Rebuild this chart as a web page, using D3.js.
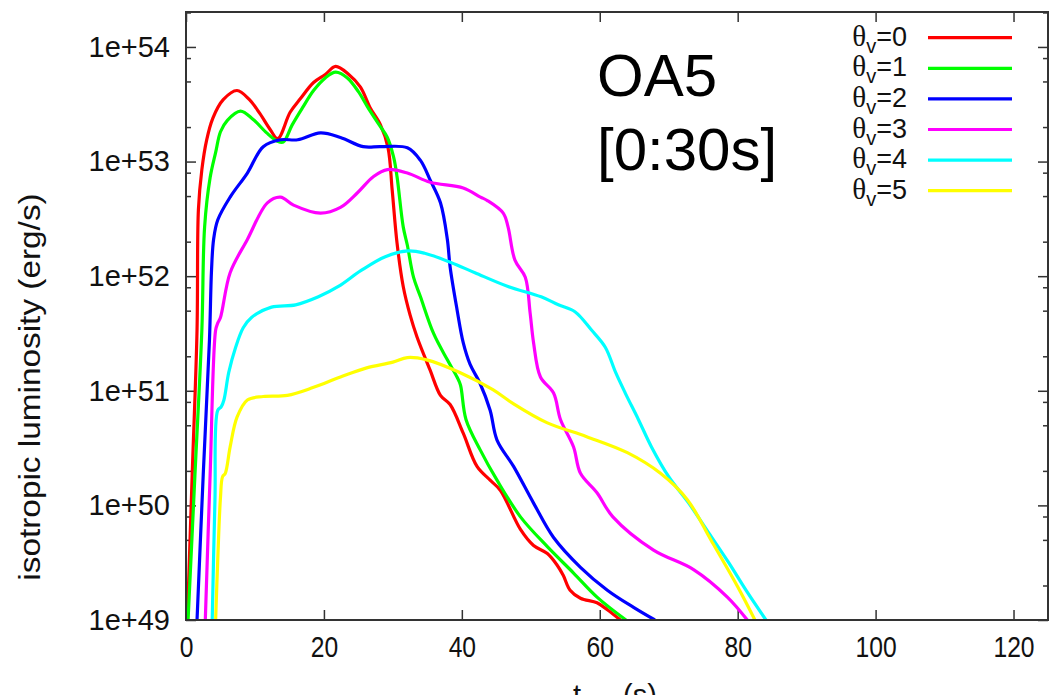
<!DOCTYPE html>
<html>
<head>
<meta charset="utf-8">
<script src="https://cdn.jsdelivr.net/npm/d3@7"></script>
<style>
  body { margin: 0; background: #fff; }
  svg { display: block; font-family: "Liberation Sans", Arial, sans-serif; }
</style>
</head>
<body>
<svg id="chart" width="1053" height="695"></svg>
<script>
// [t_obs (s), log10 of isotropic luminosity (erg/s)]
const theta0 = [[0.2,49.0],[0.9,50.27],[1.6,51.53],[1.8,52.58],[2.3,52.93],[3.0,53.19],[3.9,53.38],[5.4,53.54],[7.4,53.62],[9.2,53.54],[10.7,53.42],[12.2,53.28],[13.3,53.20],[15.1,53.43],[16.6,53.55],[18.5,53.69],[20.2,53.76],[21.7,53.83],[23.6,53.76],[25.3,53.65],[26.7,53.47],[28.2,53.32],[29.3,53.12],[29.9,52.75],[30.6,52.29],[31.5,51.91],[32.5,51.66],[33.5,51.47],[35.4,51.18],[36.9,50.96],[38.3,50.88],[40.2,50.63],[42.2,50.34],[44.1,50.22],[45.6,50.13],[48.5,49.79],[50.4,49.65],[52.4,49.58],[53.8,49.48],[54.7,49.39],[55.7,49.26],[57.2,49.19],[59.6,49.15],[61.1,49.09],[63.0,49.0]];
const theta1 = [[0.3,49.0],[1.3,50.27],[2.3,51.53],[2.7,52.43],[3.5,52.86],[4.3,53.08],[5.0,53.26],[6.0,53.36],[7.9,53.44],[9.7,53.37],[11.7,53.25],[13.2,53.18],[14.1,53.17],[15.4,53.32],[16.9,53.47],[18.5,53.62],[20.2,53.73],[21.7,53.78],[23.4,53.73],[25.0,53.61],[26.3,53.48],[27.9,53.33],[29.2,53.21],[30.1,53.04],[30.6,52.87],[31.5,52.43],[32.1,52.27],[33.0,51.99],[34.0,51.82],[35.9,51.50],[37.9,51.27],[39.3,51.12],[39.8,51.05],[40.6,50.75],[42.7,50.48],[45.1,50.22],[48.5,49.90],[52.4,49.64],[56.2,49.41],[59.6,49.20],[63.8,49.0]];
const theta2 = [[1.6,49.0],[2.5,50.27],[3.4,51.44],[3.7,52.05],[4.0,52.32],[4.6,52.49],[6.4,52.69],[8.9,52.90],[11.2,53.13],[13.7,53.19],[16.2,53.19],[19.5,53.25],[22.4,53.21],[25.7,53.13],[28.2,53.13],[32.1,53.12],[34.0,53.01],[35.4,52.84],[36.9,52.64],[37.9,52.32],[38.3,52.08],[39.3,51.71],[40.2,51.42],[41.2,51.23],[42.6,51.07],[44.1,50.83],[45.1,50.57],[47.5,50.34],[50.4,50.02],[53.3,49.72],[57.2,49.46],[61.1,49.26],[64.9,49.11],[68.0,49.0]];
const theta3 = [[2.8,49.0],[3.5,50.27],[4.3,51.53],[4.6,51.59],[5.0,51.64],[6.4,52.03],[8.9,52.32],[11.8,52.64],[13.7,52.69],[15.6,52.62],[19.5,52.55],[22.4,52.60],[24.9,52.73],[27.2,52.87],[29.2,52.93],[32.1,52.90],[35.4,52.82],[40.2,52.77],[42.7,52.69],[43.7,52.66],[46.0,52.55],[46.7,52.43],[47.7,52.14],[49.2,51.99],[49.9,51.68],[50.4,51.42],[51.4,51.12],[53.3,50.98],[54.3,50.75],[56.2,50.51],[57.2,50.28],[59.6,50.11],[61.9,49.90],[67.8,49.61],[73.6,49.44],[78.5,49.20],[81.4,49.0]];
const theta4 = [[3.8,49.0],[4.2,50.05],[4.6,50.83],[5.1,50.86],[5.5,50.92],[6.2,51.16],[7.2,51.38],[8.3,51.55],[9.5,51.64],[12.4,51.73],[15.9,51.75],[19.2,51.82],[22.1,51.91],[25.4,52.05],[28.9,52.17],[32.2,52.22],[34.6,52.20],[38.4,52.12],[41.9,52.03],[46.7,51.91],[51.5,51.82],[54.0,51.75],[56.4,51.69],[58.8,51.53],[60.8,51.38],[62.3,51.16],[63.7,50.98],[65.6,50.75],[67.5,50.51],[70.0,50.25],[72.9,50.02],[75.8,49.76],[78.7,49.50],[81.2,49.26],[84.1,49.0]];
const theta5 = [[4.3,49.0],[4.6,49.52],[5.0,50.07],[5.3,50.25],[5.7,50.28],[6.4,50.51],[7.4,50.77],[8.9,50.92],[11.2,50.95],[14.7,50.96],[18.5,51.03],[22.4,51.12],[26.2,51.20],[30.0,51.25],[32.1,51.29],[34.9,51.27],[39.7,51.16],[44.5,51.01],[47.4,50.89],[52.4,50.72],[58.1,50.60],[64.0,50.46],[68.8,50.28],[72.7,50.05],[76.1,49.70],[80.0,49.29],[82.5,49.0]];

const seriesData = [theta0, theta1, theta2, theta3, theta4, theta5];
const seriesLabels = ['0', '1', '2', '3', '4', '5'];
const seriesColors = ['#ff0000', '#00ff00', '#0000ff', '#ff00ff', '#00ffff', '#ffff00'];

const xTicks = [0, 20, 40, 60, 80, 100, 120];
const yTicks = [1e49, 1e50, 1e51, 1e52, 1e53, 1e54];
const yMinorMantissas = [2, 5, 8];

const plotLeft = 186, plotRight = 1048, plotTop = 12, plotBottom = 620;

const svg = d3.select('#chart');

const x = d3.scaleLinear().domain([0, 125]).range([plotLeft, plotRight]);
const y = d3.scaleLog().domain([1e49, 10 ** 54.305]).range([plotBottom, plotTop]);

const yMinor = [];
yTicks.forEach(t => yMinorMantissas.forEach(m => { if (t * m < y.domain()[1]) yMinor.push(t * m); }));

svg.append('clipPath').attr('id', 'plot-clip')
  .append('rect')
  .attr('x', plotLeft).attr('y', plotTop)
  .attr('width', plotRight - plotLeft).attr('height', plotBottom - plotTop);

// axes (ticks point inward, like gnuplot)
function styleAxis(g) {
  g.select('.domain').remove();
  g.selectAll('.tick line').attr('stroke', '#333').attr('stroke-width', 1.5);
  g.selectAll('.tick text').attr('fill', '#111').style('font-size', '29px')
    .style('font-family', '"Liberation Sans", Arial, sans-serif');
}

const xAxisG = svg.append('g').attr('transform', `translate(0,${plotBottom})`)
  .call(d3.axisBottom(x).tickValues(xTicks).tickSizeInner(-10).tickSizeOuter(0).tickPadding(16))
  .call(styleAxis);
// the x tick numbers are a little condensed in the original
xAxisG.selectAll('.tick text')
  .attr('transform', function () { return `translate(0,${this.getAttribute('y')}) scale(0.85,1) translate(0,${-this.getAttribute('y')})`; });

svg.append('g').attr('transform', `translate(0,${plotTop})`)
  .call(d3.axisTop(x).tickValues(xTicks).tickSizeInner(-10).tickSizeOuter(0).tickFormat(''))
  .call(styleAxis);

svg.append('g').attr('transform', `translate(${plotLeft},0)`)
  .call(d3.axisLeft(y).tickValues(yTicks).tickSizeInner(-10).tickSizeOuter(0).tickPadding(16)
    .tickFormat(d => '1e+' + Math.round(Math.log10(d))))
  .call(styleAxis);

svg.append('g').attr('transform', `translate(${plotLeft},0)`)
  .call(d3.axisLeft(y).tickValues(yMinor).tickSizeInner(-5).tickSizeOuter(0).tickFormat(''))
  .call(styleAxis);

svg.append('g').attr('transform', `translate(${plotRight},0)`)
  .call(d3.axisRight(y).tickValues(yTicks).tickSizeInner(-10).tickSizeOuter(0).tickFormat(''))
  .call(styleAxis);

svg.append('g').attr('transform', `translate(${plotRight},0)`)
  .call(d3.axisRight(y).tickValues(yMinor).tickSizeInner(-5).tickSizeOuter(0).tickFormat(''))
  .call(styleAxis);

// curves
const line = d3.line()
  .x(d => x(d[0]))
  .y(d => y(10 ** d[1]))
  .curve(d3.curveCatmullRom.alpha(0.5));

svg.append('g').attr('clip-path', 'url(#plot-clip)')
  .selectAll('path')
  .data(seriesData)
  .join('path')
  .attr('d', line)
  .attr('fill', 'none')
  .attr('stroke', (d, i) => seriesColors[i])
  .attr('stroke-width', 3.2)
  .attr('stroke-linejoin', 'round');

// frame
svg.append('rect')
  .attr('x', plotLeft).attr('y', plotTop)
  .attr('width', plotRight - plotLeft).attr('height', plotBottom - plotTop)
  .attr('fill', 'none').attr('stroke', '#333').attr('stroke-width', 2);

// legend
const legend = svg.append('g');
const rows = legend.selectAll('g')
  .data(seriesLabels)
  .join('g')
  .attr('transform', (d, i) => `translate(0,${37.7 + i * 30.6})`);

const lt = rows.append('text')
  .attr('x', 907).attr('y', 8)
  .attr('text-anchor', 'end')
  .style('font-size', '27px')
  .attr('fill', '#111');
lt.append('tspan').text('θ').style('font-family', '"Liberation Serif", "DejaVu Serif", serif').style('font-size', '29px');
lt.append('tspan').text('v').attr('dy', 7).style('font-size', '20px');
lt.append('tspan').text(d => '=' + d).attr('dy', -7);

rows.append('line')
  .attr('x1', 928).attr('x2', 1012)
  .attr('stroke', (d, i) => seriesColors[i])
  .attr('stroke-width', 3.2);

// annotation
svg.append('text').attr('x', 597).attr('y', 96)
  .style('font-size', '60px').attr('fill', '#000').text('OA5');
svg.append('text').attr('x', 597).attr('y', 170)
  .style('font-size', '60px').attr('fill', '#000').text('[0:30s]');

// axis titles (original is a bit stretched along its length)
svg.append('text')
  .attr('transform', 'translate(40,387) rotate(-90) scale(1.15,1)')
  .attr('text-anchor', 'middle')
  .style('font-size', '29px').attr('fill', '#111')
  .text('isotropic luminosity (erg/s)');

const xt = svg.append('text').attr('x', 573).attr('y', 705)
  .style('font-size', '29px').attr('fill', '#111');
xt.append('tspan').text('t');
xt.append('tspan').text('obs').attr('dy', 7).style('font-size', '21px');
xt.append('tspan').text(' (s)').attr('dy', -7);
</script>
</body>
</html>
